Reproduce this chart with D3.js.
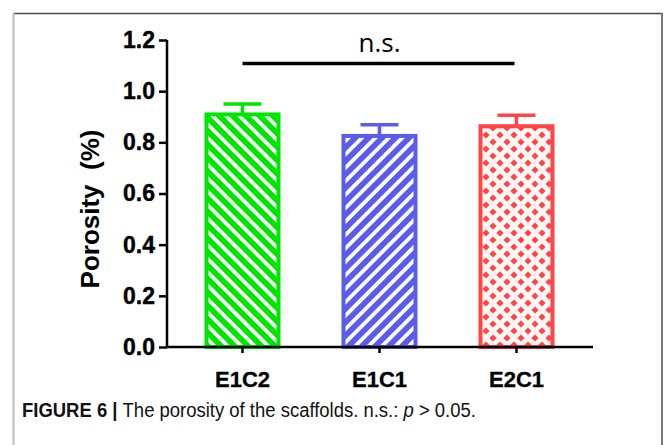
<!DOCTYPE html>
<html>
<head>
<meta charset="utf-8">
<script src="https://cdn.jsdelivr.net/npm/d3@7"></script>
<style>
  html, body { margin: 0; padding: 0; background: #fff; }
  svg { display: block; }
</style>
</head>
<body>
<div id="chart"></div>
<script>
// data
const groups = ["E1C2", "E1C1", "E2C1"];
const means = [0.909, 0.825, 0.863];
const errs = [0.041, 0.044, 0.043];
const yTicks = [0, 0.2, 0.4, 0.6, 0.8, 1.0, 1.2];
const colors = ["#00e600", "#5b5bec", "#ff4545"];
const patterns = ["hatchBack", "hatchFwd", "dots"];

const W = 663, H = 445;
const svg = d3.select("#chart").append("svg")
  .attr("width", W).attr("height", H);

// figure frame
svg.append("line").attr("x1", 13).attr("x2", 663).attr("y1", 13.5).attr("y2", 13.5)
  .attr("stroke", "#4a4a4a").attr("stroke-width", 1.5);
svg.append("line").attr("x1", 13.5).attr("x2", 13.5).attr("y1", 13).attr("y2", H)
  .attr("stroke", "#bdbdbd").attr("stroke-width", 2);
svg.append("line").attr("x1", 662).attr("x2", 662).attr("y1", 13).attr("y2", H)
  .attr("stroke", "#777").attr("stroke-width", 2);

// patterns
const defs = svg.append("defs");
const p1 = defs.append("pattern").attr("id", "hatchBack")
  .attr("patternUnits", "userSpaceOnUse").attr("width", 9.5).attr("height", 9.5)
  .attr("patternTransform", "rotate(-45)");
p1.append("rect").attr("width", 9.5).attr("height", 9.5).attr("fill", colors[0]);
p1.append("rect").attr("x", 0).attr("width", 3.8).attr("height", 9.5).attr("fill", "#fff");

const p2 = defs.append("pattern").attr("id", "hatchFwd")
  .attr("patternUnits", "userSpaceOnUse").attr("width", 9.5).attr("height", 9.5)
  .attr("patternTransform", "rotate(45)");
p2.append("rect").attr("width", 9.5).attr("height", 9.5).attr("fill", colors[1]);
p2.append("rect").attr("x", 0).attr("width", 3.8).attr("height", 9.5).attr("fill", "#fff");

const p3 = defs.append("pattern").attr("id", "dots")
  .attr("patternUnits", "userSpaceOnUse").attr("width", 14).attr("height", 14)
  .attr("x", 3).attr("y", 2);
p3.append("rect").attr("width", 14).attr("height", 14).attr("fill", "#fff6f6");
[[0, 0], [14, 0], [0, 14], [14, 14], [7, 7]].forEach(([cx, cy]) => {
  p3.append("path")
    .attr("d", `M${cx},${cy - 3.6}L${cx + 3.6},${cy}L${cx},${cy + 3.6}L${cx - 3.6},${cy}Z`)
    .attr("fill", colors[2]);
});

// scales
const y = d3.scaleLinear().domain([0, 1.2]).range([347, 40]);
const x = d3.scaleBand().domain(groups).range([174, 585])
  .paddingInner(0.445).paddingOuter(0.2225);

// bars
const bars = svg.append("g");
groups.forEach((g, i) => {
  const x0 = x(g), bw = x.bandwidth();
  // error bar (upper only)
  const cx = x0 + bw / 2;
  bars.append("line")
    .attr("x1", cx).attr("x2", cx)
    .attr("y1", y(means[i])).attr("y2", y(means[i] + errs[i]))
    .attr("stroke", colors[i]).attr("stroke-width", 3.5);
  bars.append("line")
    .attr("x1", cx - bw / 4).attr("x2", cx + bw / 4)
    .attr("y1", y(means[i] + errs[i])).attr("y2", y(means[i] + errs[i]))
    .attr("stroke", colors[i]).attr("stroke-width", 3.5);
  bars.append("rect")
    .attr("x", x0 + 2).attr("y", y(means[i]))
    .attr("width", bw - 4).attr("height", y(0) - y(means[i]))
    .attr("fill", `url(#${patterns[i]})`)
    .attr("stroke", colors[i]).attr("stroke-width", 4);
});

// y axis
const yAxis = svg.append("g").attr("transform", "translate(167,0)")
  .call(d3.axisLeft(y).tickValues(yTicks).tickFormat(d3.format(".1f"))
    .tickSize(8).tickSizeOuter(0).tickPadding(4));
yAxis.select(".domain").attr("stroke", "#000").attr("stroke-width", 2.5)
  .attr("d", `M0,${y(1.2)}V${y(0) + 1}`);
yAxis.selectAll(".tick line").attr("stroke", "#000").attr("stroke-width", 2.5);
yAxis.selectAll(".tick text")
  .style("font-family", "Liberation Sans, Arial, sans-serif")
  .style("font-weight", "bold").style("font-size", "23px")
  .attr("fill", "#000").attr("stroke", "#000").attr("stroke-width", 0.4);

// x axis
const xAxis = svg.append("g").attr("transform", "translate(0,347)")
  .call(d3.axisBottom(x).tickSize(6).tickSizeOuter(0).tickPadding(18));
xAxis.select(".domain").attr("stroke", "#000").attr("stroke-width", 2.5)
  .attr("d", "M166,0H593");
xAxis.selectAll(".tick line").attr("stroke", "#000").attr("stroke-width", 2.5);
xAxis.selectAll(".tick text")
  .style("font-family", "Liberation Sans, Arial, sans-serif")
  .style("font-weight", "bold").style("font-size", "22px")
  .attr("fill", "#000").attr("stroke", "#000").attr("stroke-width", 0.3);

// axis title
svg.append("text")
  .attr("transform", "translate(99,209) rotate(-90)")
  .attr("text-anchor", "middle")
  .style("font-family", "Liberation Sans, Arial, sans-serif")
  .style("font-weight", "bold").style("font-size", "26px")
  .text("Porosity\u00a0 (%)");

// significance line
svg.append("line")
  .attr("x1", x("E1C2") + x.bandwidth() / 2).attr("x2", x("E2C1") + x.bandwidth() / 2 - 2)
  .attr("y1", 63.5).attr("y2", 63.5)
  .attr("stroke", "#000").attr("stroke-width", 3.5);
svg.append("text")
  .attr("x", x("E1C1") + x.bandwidth() / 2).attr("y", 52)
  .attr("text-anchor", "middle")
  .style("font-family", "Open Sans, sans-serif").style("font-size", "26px")
  .text("n.s.");

// caption (condensed face)
const cap = svg.append("text").attr("transform", "translate(22,417) scale(0.88,1)")
  .style("font-family", "Liberation Sans, Arial, sans-serif")
  .style("font-size", "21px").attr("fill", "#111");
cap.append("tspan").style("font-weight", "bold").text("FIGURE 6 | ");
cap.append("tspan").text("The porosity of the scaffolds. n.s.: ");
cap.append("tspan").style("font-style", "italic").text("p");
cap.append("tspan").text(" > 0.05.");
</script>
</body>
</html>
